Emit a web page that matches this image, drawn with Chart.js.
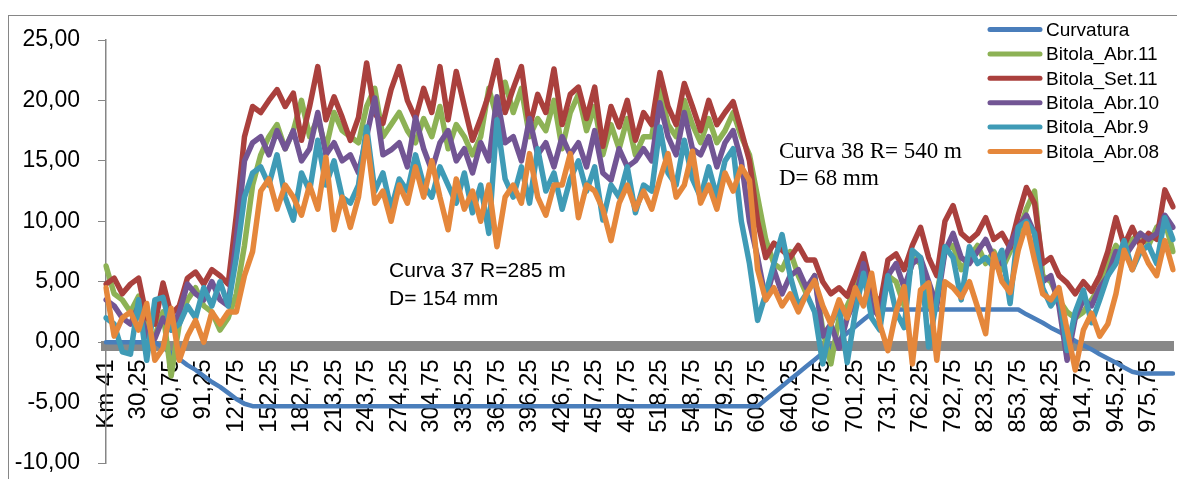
<!DOCTYPE html>
<html>
<head>
<meta charset="utf-8">
<script src="https://cdn.jsdelivr.net/npm/chart.js@4.4.0/dist/chart.umd.min.js"></script>
<style>
  html, body { margin: 0; padding: 0; background: #fff; }
  #wrap { position: relative; width: 1177px; height: 479px; }
</style>
</head>
<body>
<div id="wrap"><canvas id="chart"></canvas></div>
<script>
// tick labels (one every 4 points along the track)
const tickLabels = ['Km 41', '30,25', '60,75', '91,25', '121,75', '152,25', '182,75', '213,25', '243,75',
  '274,25', '304,75', '335,25', '365,75', '396,25', '426,75', '457,25', '487,75', '518,25', '548,75',
  '579,25', '609,75', '640,25', '670,75', '701,25', '731,75', '762,25', '792,75', '823,25', '853,75',
  '884,25', '914,75', '945,25', '975,75'];
const pointsPerTick = 4;
const pointCount = 132;

const curvatura = [
  0, 0, 0, 0, 0, 0, 0, -0.45, -0.9, -1.4,
  -1.9, -2.3, -2.8, -3.3, -3.7, -4.2, -4.7, -5.1, -5.3, -5.3,
  -5.3, -5.3, -5.3, -5.3, -5.3, -5.3, -5.3, -5.3, -5.3, -5.3,
  -5.3, -5.3, -5.3, -5.3, -5.3, -5.3, -5.3, -5.3, -5.3, -5.3,
  -5.3, -5.3, -5.3, -5.3, -5.3, -5.3, -5.3, -5.3, -5.3, -5.3,
  -5.3, -5.3, -5.3, -5.3, -5.3, -5.3, -5.3, -5.3, -5.3, -5.3,
  -5.3, -5.3, -5.3, -5.3, -5.3, -5.3, -5.3, -5.3, -5.3, -5.3,
  -5.3, -5.3, -5.3, -5.3, -5.3, -5.3, -5.3, -5.3, -5.3, -5.3,
  -5.3, -4.75, -4.2, -3.65, -3.1, -2.55, -2.0, -1.45, -0.9, -0.35,
  0.2, 0.75, 1.3, 1.85, 2.4, 2.7, 2.7, 2.7, 2.7, 2.7,
  2.7, 2.7, 2.7, 2.7, 2.7, 2.7, 2.7, 2.7, 2.7, 2.7,
  2.7, 2.7, 2.7, 2.3, 1.95, 1.6, 1.2, 0.85, 0.5, 0.1,
  -0.25, -0.6, -1.0, -1.35, -1.7, -2.1, -2.45, -2.6, -2.6, -2.6,
  -2.6, -2.6
];
const bitolaAbr11 = [
  6.3, 4.0, 3.5, 2.5, 3.8, 1.0, 0.5, 2.5, -2.8, 1.5,
  3.5, 4.5, 3.0, 2.5, 1.0, 2.0, 4.0, 8.0, 13.0, 15.5,
  17.0, 18.0, 16.0, 17.5, 20.0, 17.0, 18.5, 16.0, 19.0, 17.5,
  17.0, 16.5, 19.5, 21.0, 17.0, 18.0, 19.0, 17.5, 16.5, 18.5,
  17.0, 19.5, 16.0, 18.0, 17.0, 15.5, 17.0, 21.0, 18.5, 21.5,
  19.0, 21.0, 17.0, 18.5, 17.5, 20.0, 16.0, 19.0, 20.5, 17.5,
  19.5, 15.5, 18.0, 16.0, 18.5, 15.5, 17.0, 17.0, 21.0, 18.0,
  17.0, 20.0, 18.0, 16.5, 18.5, 16.5, 17.5, 19.0, 17.0, 15.5,
  12.0, 8.5, 6.5, 6.0, 7.5, 5.5, 4.0, 5.5, 1.0, -1.8,
  2.0, 3.0, 4.5, 6.0, 3.5, 2.5, 5.5, 5.0, 3.0, 7.0,
  6.5, 3.0, 4.0, 7.5, 8.0, 6.0, 7.0, 8.0, 6.5, 7.5,
  6.0, 7.5, 9.0, 11.0, 12.5, 5.5, 5.0, 3.5, 2.5, 2.0,
  2.5, 3.5, 4.5, 6.5, 8.0, 7.0, 8.5, 9.0, 8.0, 9.5,
  10.0, 7.5
];
const bitolaSet11 = [
  4.8, 5.3, 4.0, 4.8, 5.3, 2.0, 1.5, 4.9, 2.3, 3.0,
  5.3, 5.8, 4.8, 6.0, 5.5, 4.8, 10.5, 17.0, 19.5, 19.0,
  20.0, 20.9, 19.5, 20.6, 16.7, 19.5, 22.8, 18.4, 20.3, 18.6,
  16.7, 18.6, 23.1, 18.9, 18.1, 20.9, 22.8, 20.0, 18.5, 21.0,
  19.0, 22.8, 18.4, 22.4, 19.5, 16.7, 18.5, 20.5, 23.3, 19.0,
  21.0, 22.8, 17.8, 20.5, 19.0, 22.6, 18.0, 20.5, 21.1, 18.5,
  21.1, 16.2, 19.5, 17.8, 20.0, 16.7, 19.0, 18.0, 22.3, 19.5,
  18.0, 21.4, 19.5, 17.5, 20.0, 18.0, 19.0, 19.9, 17.5, 15.0,
  10.0, 7.0, 8.2, 7.6, 7.0, 8.0, 6.8, 6.8, 5.0, 4.0,
  4.5, 3.8, 5.5, 7.3, 4.5, 3.0, 6.8, 7.3, 6.0, 8.0,
  9.5, 7.0, 5.5, 10.0, 11.3, 9.0, 8.4, 9.0, 10.3, 8.5,
  9.0, 7.8, 10.5, 12.8, 11.5, 6.5, 7.0, 5.5, 4.9, 4.0,
  5.0, 4.2, 5.5, 7.5, 10.3, 8.0, 9.5, 8.0, 9.0, 8.5,
  12.6, 11.2
];
const bitolaAbr10 = [
  3.5, 3.0, 2.0, 1.5, 3.0, 0.5, 0.3, 2.0, 1.0, 2.5,
  4.8, 4.0, 3.5, 5.0, 3.5, 3.0, 8.5, 15.0, 16.5, 17.0,
  15.5, 17.5, 16.0, 17.5, 15.0, 16.0, 19.0, 15.5, 16.5, 15.0,
  15.5, 14.0, 17.0, 20.2, 15.5, 15.9, 16.5, 14.5, 18.6, 16.0,
  14.2, 16.5, 17.5, 15.0, 16.0, 14.0, 16.5, 15.0, 20.3, 16.5,
  17.0, 15.0, 18.5, 15.5, 16.5, 14.5, 17.0, 15.5, 16.5, 14.5,
  17.5, 14.0, 13.4, 16.0, 14.5, 15.0, 16.0, 15.0, 19.8, 17.0,
  15.5, 19.0, 16.0, 15.5, 17.0, 14.5, 16.5, 17.5, 15.0, 10.0,
  7.0, 3.5, 6.0, 4.0, 5.5, 6.0, 4.5, 5.5, 0.5, 1.5,
  -0.5, 2.0, 3.5, 6.5, 3.0, 2.0, 5.5, 6.5, 4.5, 6.5,
  7.0, 5.0, 3.0, 7.5, 9.0, 7.0, 6.5, 7.5, 8.5, 7.0,
  6.5, 8.0, 9.5, 10.5, 9.0, 5.0, 5.5, 3.0, -1.5, 2.0,
  3.5, 3.0, 4.5, 5.5, 7.5, 7.0, 8.0, 9.0, 8.5, 9.0,
  10.5, 9.5
];
const bitolaAbr9 = [
  2.0, 1.5, -0.8, -1.0, 3.5, -1.5, 3.5, 3.7, 1.0, 1.5,
  3.0, 2.0, 4.5, 3.0, 5.0, 3.0, 7.0, 12.0, 14.0, 14.5,
  13.0, 15.5, 12.0, 10.1, 14.0, 12.5, 16.7, 13.0, 15.0, 12.0,
  11.5, 13.0, 17.8, 12.5, 14.0, 11.0, 13.5, 12.5, 15.5, 13.0,
  12.0, 14.5, 13.0, 11.5, 14.0, 10.7, 13.0, 9.0, 18.4, 13.5,
  12.0, 14.5, 11.5, 16.0, 12.5, 14.0, 11.0, 13.5, 15.0, 12.5,
  14.5, 10.1, 13.0, 12.0, 14.5, 10.7, 13.0, 12.5, 17.8, 14.0,
  13.0, 16.7, 13.5, 12.0, 14.5, 12.0, 15.0, 16.0, 10.0, 6.5,
  1.8, 4.0, 6.5, 8.9, 5.5, 3.0, 4.0, 2.5, -1.8, 1.5,
  3.0, -1.7, 2.5, 5.7, 2.0, 1.0, 5.5, 2.5, 1.2, 7.6,
  7.0, -0.4, 3.5, 7.9, 7.0, 3.5, 7.9, 6.5, 7.0, 6.2,
  7.6, 3.2, 9.5, 10.0, 9.0, 4.5, 3.0, 4.0, -0.7, 2.5,
  4.3, 1.6, 3.5, 5.5, 6.5, 8.4, 6.0, 7.5, 8.0, 6.5,
  10.3, 8.5
];
const bitolaAbr08 = [
  4.5, 0.5, 2.0, 2.5, 1.0, 3.2, -1.5, -0.5, 2.8, -1.5,
  0.5, 1.8, 0.0, 2.5, 1.5, 2.5, 2.5, 5.5, 7.5, 12.5,
  13.5, 11.0, 13.0, 12.0, 10.5, 13.0, 11.0, 15.3, 9.3, 12.0,
  9.5, 12.0, 17.0, 11.5, 12.5, 10.0, 13.0, 11.5, 14.5, 12.0,
  15.0, 12.0, 9.3, 13.5, 11.0, 12.5, 10.0, 13.0, 7.9, 12.0,
  13.0, 11.5, 15.6, 12.0, 10.5, 13.0, 13.0, 15.6, 10.3, 13.0,
  12.5, 11.0, 8.4, 11.5, 13.0, 11.0, 12.5, 11.0, 13.5, 15.6,
  12.0, 13.0, 15.8, 11.5, 13.0, 11.0, 14.0, 12.5, 14.5, 13.4,
  6.0, 3.5, 4.5, 3.0, 4.0, 2.5, 4.0, 5.1, 3.0, 1.5,
  3.5, 2.0, 4.5, 3.0, 5.7, 1.5, -0.7, 2.5, 4.6, -1.8,
  4.3, 4.9, -1.5, 5.0, 4.5, 3.7, 5.0, 2.9, 0.7, 7.3,
  5.0, 4.1, 7.6, 9.8, 6.8, 4.0, 3.5, 4.5, 1.0, -2.3,
  1.0, 2.4, 0.5, 1.5, 4.0, 7.6, 6.0, 8.0, 6.5, 5.5,
  8.4, 6.0
];

// categories: a label every 4th point, blank in between
const categories = [];
for (let i = 0; i < pointCount; i++) {
  categories.push(i % pointsPerTick === 0 ? tickLabels[i / pointsPerTick] : '');
}

const sansFont = '"Liberation Sans", Arial, sans-serif';

function serie(label, data, color, order, width) {
  return {
    label: label,
    data: data,
    borderColor: color,
    backgroundColor: color,
    borderWidth: width,
    pointRadius: 0,
    tension: 0,
    borderJoinStyle: 'round',
    borderCapStyle: 'round',
    order: order
  };
}

// no extra padding from the axes, the layout padding places the plot
function noPadding(scale) {
  scale.paddingLeft = 0;
  scale.paddingRight = 0;
  scale.paddingTop = 0;
  scale.paddingBottom = 0;
}

// legenda e textos das curvas
const extrasPlugin = {
  id: 'extras',
  beforeDraw(chart) {
    const ctx = chart.ctx;
    ctx.save();
    ctx.strokeStyle = '#868686';
    ctx.lineWidth = 1;
    ctx.strokeRect(8.5, 15.5, 1300, 600);
    ctx.restore();
  },
  afterDraw(chart) {
    const ctx = chart.ctx;
    ctx.save();
    ctx.font = '19px ' + sansFont;
    ctx.textBaseline = 'middle';
    chart.data.datasets.forEach((ds, i) => {
      const y = 29.5 + i * 24.4;
      ctx.strokeStyle = ds.borderColor;
      ctx.lineWidth = 5;
      ctx.lineCap = 'round';
      ctx.beginPath();
      ctx.moveTo(990, y);
      ctx.lineTo(1040, y);
      ctx.stroke();
      ctx.fillStyle = '#000';
      ctx.fillText(ds.label, 1046, y + 1);
    });

    ctx.textBaseline = 'alphabetic';
    ctx.font = '21px ' + sansFont;
    ctx.fillText('Curva 37 R=285 m', 389, 277);
    ctx.fillText('D= 154 mm', 389, 305);
    ctx.font = '23px "Liberation Serif", "Times New Roman", serif';
    ctx.fillText('Curva 38 R= 540 m', 779, 158);
    ctx.fillText('D= 68 mm', 779, 185);
    ctx.restore();
  }
};

new Chart(document.getElementById('chart'), {
  type: 'line',
  data: {
    labels: categories,
    datasets: [
      serie('Curvatura', curvatura, '#4A7EBB', 6, 4.5),
      serie('Bitola_Abr.11', bitolaAbr11, '#8DB255', 5, 5.5),
      serie('Bitola_Set.11', bitolaSet11, '#AA403D', 4, 5.5),
      serie('Bitola_Abr.10', bitolaAbr10, '#725594', 3, 5.5),
      serie('Bitola_Abr.9', bitolaAbr9, '#3F9BB6', 2, 5.5),
      serie('Bitola_Abr.08', bitolaAbr08, '#E5873B', 1, 5.5)
    ]
  },
  options: {
    responsive: true,
    maintainAspectRatio: false,
    animation: false,
    layout: { padding: { left: 8, top: 40, right: 4, bottom: 16 } },
    plugins: {
      legend: { display: false },
      tooltip: { enabled: false }
    },
    scales: {
      x: {
        type: 'category',
        position: { y: -0.35 },
        offset: false,
        z: 1, // o eixo fica por cima das séries, como no Excel
        ticks: {
          autoSkip: false,
          minRotation: 90,
          maxRotation: 90,
          padding: 13,
          color: '#000',
          font: { family: sansFont, size: 24 },
          callback: function (value, index) {
            return categories[index];
          }
        },
        grid: { display: false, drawTicks: false },
        border: { display: true, color: '#888888', width: 10 },
        afterFit: noPadding
      },
      y: {
        min: -10,
        max: 25,
        ticks: {
          stepSize: 5,
          padding: 18,
          color: '#000',
          font: { family: sansFont, size: 23 },
          callback: function (value) {
            return value.toFixed(2).replace('.', ',');
          }
        },
        grid: { display: true, drawOnChartArea: false, drawTicks: true, tickLength: 8, color: '#868686' },
        border: { display: true, color: '#868686', width: 1.5 },
        afterFit: function (scale) {
          noPadding(scale);
          scale.width = 98;
        }
      }
    }
  },
  plugins: [extrasPlugin]
});
</script>
</body>
</html>
